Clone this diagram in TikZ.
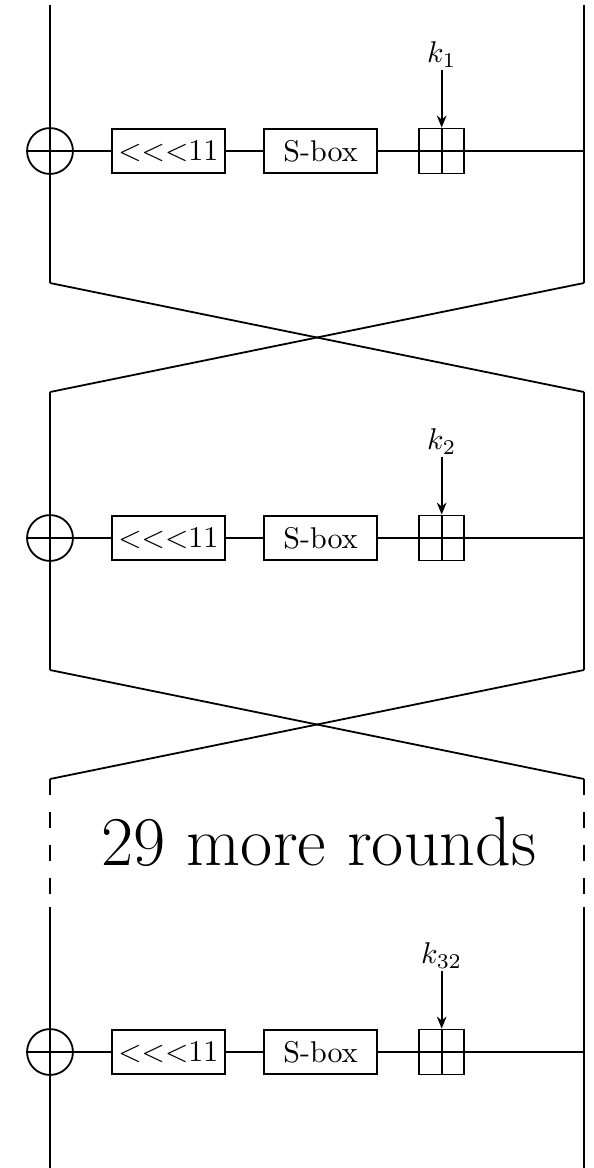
\documentclass[tikz,border=0pt]{standalone}
\usepackage{amsmath,amssymb}
\usetikzlibrary{arrows.meta, positioning}

\begin{document}
\begin{tikzpicture}[x=0.3333pt, y=-0.3333pt, line width=0.6pt,
    xorop/.style={circle, draw, minimum size=15.3pt, inner sep=0pt},
    opbox/.style={rectangle, draw, minimum width=37.8pt, minimum height=14.7pt, inner sep=1pt},
    addbox/.style={rectangle, draw, minimum size=15pt, inner sep=0pt},
    keylabel/.style={inner sep=0.5pt},
    keyarrow/.style={-{Stealth[length=4pt, width=3.2pt]}}]
        \useasboundingbox (0,0) rectangle (593,1168);

        % corner points of the two halves
        \coordinate (tl1) at (50,5);    \coordinate (tr1) at (584,5);
        \coordinate (bl1) at (50,283);  \coordinate (br1) at (584,283);
        \coordinate (tl2) at (50,392);  \coordinate (tr2) at (584,392);
        \coordinate (bl2) at (50,670);  \coordinate (br2) at (584,670);
        \coordinate (tl3) at (50,779);  \coordinate (tr3) at (584,779);
        \coordinate (ml3) at (50,907);  \coordinate (mr3) at (584,907);
        \coordinate (bl3) at (50,1168); \coordinate (br3) at (584,1168);

        % round 1
        \node[xorop] (xor1) at (50,151) {};
        \node[opbox, right=12.3pt of xor1] (rot1) {<\kern0pt<\kern0pt<11};
        \node[opbox, right=12.3pt of rot1] (sbox1) {S-box};
        \node[addbox, right=13.4pt of sbox1] (add1) {};
        \node[keylabel, above=19.3pt of add1] (k1) {$k_1$};
        \coordinate (r1) at (584,151);
        \draw (tl1) -- (bl1);
        \draw (tr1) -- (br1);
        \draw (xor1.west) -- (rot1) -- (sbox1) -- (add1.west) -- (r1);
        \draw (add1.north) -- (add1.south);
        \draw[keyarrow] (k1) -- (add1);

        % swap 1
        \draw (bl1) -- (tr2);
        \draw (br1) -- (tl2);

        % round 2
        \node[xorop] (xor2) at (50,538) {};
        \node[opbox, right=12.3pt of xor2] (rot2) {<\kern0pt<\kern0pt<11};
        \node[opbox, right=12.3pt of rot2] (sbox2) {S-box};
        \node[addbox, right=13.4pt of sbox2] (add2) {};
        \node[keylabel, above=19.3pt of add2] (k2) {$k_2$};
        \coordinate (r2) at (584,538);
        \draw (tl2) -- (bl2);
        \draw (tr2) -- (br2);
        \draw (xor2.west) -- (rot2) -- (sbox2) -- (add2.west) -- (r2);
        \draw (add2.north) -- (add2.south);
        \draw[keyarrow] (k2) -- (add2);

        % swap 2
        \draw (bl2) -- (tr3);
        \draw (br2) -- (tl3);

        % skipped rounds
        \draw[dash pattern=on 5.3pt off 5.7pt] (tl3) -- (ml3);
        \draw[dash pattern=on 5.3pt off 5.7pt] (tr3) -- (mr3);
        \node (more) at (319,842) {\fontsize{23.3}{28}\selectfont 29 more rounds};

        % round 32
        \node[xorop] (xor3) at (50,1052) {};
        \node[opbox, right=12.3pt of xor3] (rot3) {<\kern0pt<\kern0pt<11};
        \node[opbox, right=12.3pt of rot3] (sbox3) {S-box};
        \node[addbox, right=13.4pt of sbox3] (add3) {};
        \node[keylabel, above=19.3pt of add3] (k3) {$k_{32}$};
        \coordinate (r3) at (584,1052);
        \draw (ml3) -- (bl3);
        \draw (mr3) -- (br3);
        \draw (xor3.west) -- (rot3) -- (sbox3) -- (add3.west) -- (r3);
        \draw (add3.north) -- (add3.south);
        \draw[keyarrow] (k3) -- (add3);
\end{tikzpicture}
\end{document}
